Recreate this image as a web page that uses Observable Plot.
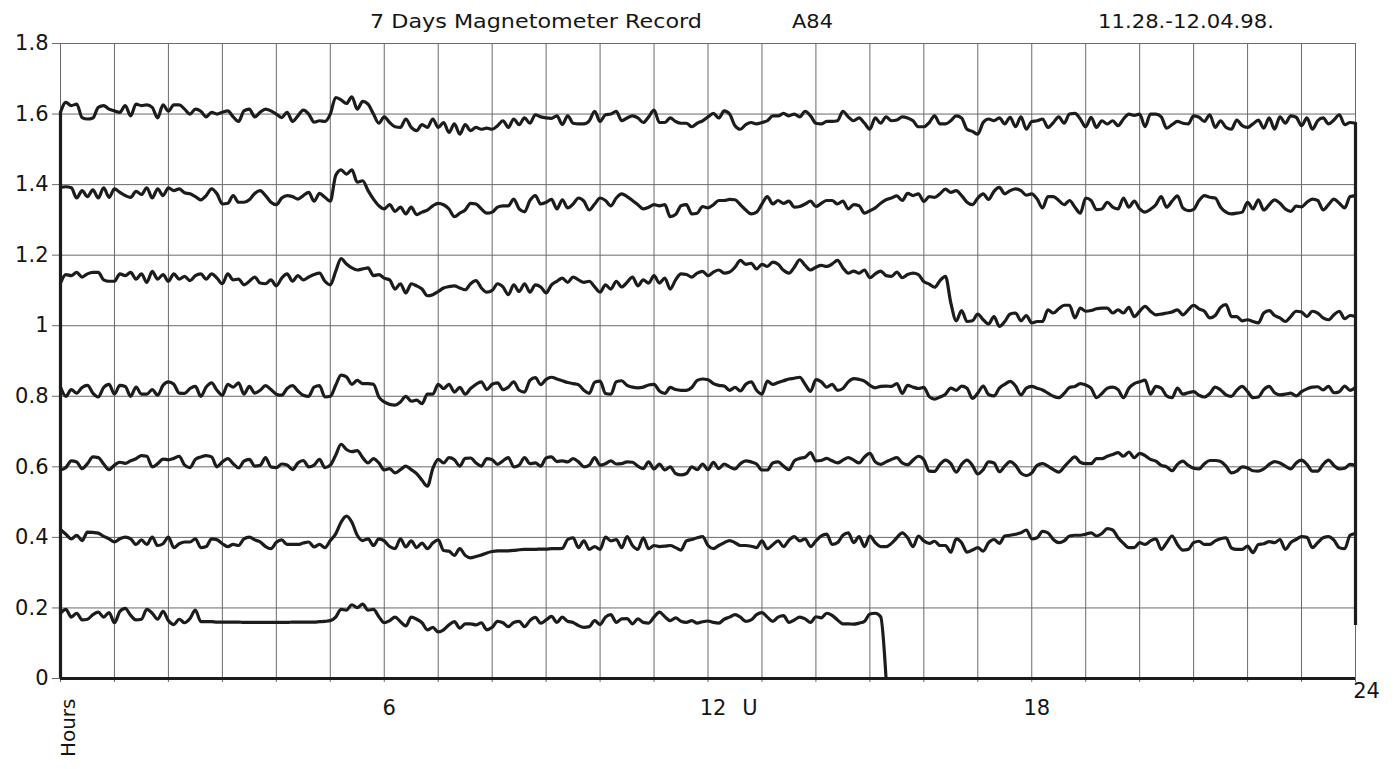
<!DOCTYPE html>
<html>
<head>
<meta charset="utf-8">
<script src="https://cdn.jsdelivr.net/npm/d3@7"></script>
<script src="https://cdn.jsdelivr.net/npm/@observablehq/plot@0.6"></script>
<style>
  body { margin: 0; background: #fff; }
  #wrap { position: relative; width: 1398px; height: 769px; background: #fff; overflow: hidden; }
  #hdr { position: absolute; left: 0; top: 0; pointer-events: none; }
  #chart { position: absolute; left: 0; top: 0; }
</style>
</head>
<body>
<div id="wrap">
  <div id="chart"></div>
  <svg id="hdr" width="1398" height="36" font-family="DejaVu Sans, sans-serif" font-size="19" fill="#151515">
    <text x="370" y="28" textLength="332" lengthAdjust="spacingAndGlyphs">7 Days Magnetometer Record</text>
    <text x="792" y="28" textLength="41" lengthAdjust="spacingAndGlyphs">A84</text>
    <text x="1098" y="28" textLength="176" lengthAdjust="spacingAndGlyphs">11.28.-12.04.98.</text>
  </svg>
</div>
<script>
// ---- data -------------------------------------------------------------
const stepHours = 0.1;                       // one sample every 0.1 h
const hourTicks = [0,1,2,3,4,5,6,7,8,9,10,11,12,13,14,15,16,17,18,19,20,21,22,23,24];
const xLabelTicks = [6, 12, 18];
const xEndTick = [24];
const yTicks = [0, 0.2, 0.4, 0.6, 0.8, 1, 1.2, 1.4, 1.6, 1.8];
const unitLabel = "U";
const axisName = "Hours";

const day1 = [1.605,1.633,1.624,1.628,1.59,1.586,1.589,1.619,1.624,1.614,
1.609,1.605,1.624,1.595,1.628,1.624,1.626,1.619,1.589,1.626,
1.608,1.626,1.626,1.614,1.6,1.614,1.608,1.592,1.605,1.6,
1.605,1.609,1.592,1.579,1.609,1.614,1.592,1.605,1.614,1.609,
1.6,1.59,1.605,1.579,1.595,1.611,1.6,1.577,1.581,1.579,
1.6,1.647,1.64,1.63,1.649,1.614,1.636,1.628,1.6,1.574,
1.592,1.576,1.564,1.562,1.586,1.562,1.553,1.57,1.562,1.586,
1.562,1.576,1.548,1.572,1.543,1.57,1.553,1.562,1.557,1.56,
1.557,1.567,1.581,1.562,1.586,1.57,1.589,1.574,1.598,1.592,
1.589,1.588,1.595,1.57,1.595,1.574,1.572,1.572,1.581,1.608,
1.579,1.598,1.6,1.608,1.581,1.589,1.595,1.589,1.576,1.592,
1.611,1.576,1.576,1.589,1.579,1.574,1.574,1.564,1.574,1.581,
1.592,1.602,1.589,1.609,1.6,1.567,1.557,1.57,1.576,1.572,
1.576,1.581,1.595,1.595,1.602,1.595,1.6,1.592,1.608,1.595,
1.574,1.572,1.579,1.579,1.581,1.608,1.592,1.581,1.589,1.574,
1.557,1.589,1.574,1.592,1.581,1.583,1.592,1.589,1.581,1.564,
1.564,1.576,1.595,1.572,1.572,1.581,1.595,1.589,1.557,1.551,
1.543,1.576,1.586,1.581,1.589,1.572,1.591,1.564,1.592,1.557,
1.579,1.581,1.586,1.562,1.576,1.592,1.574,1.6,1.602,1.586,
1.564,1.591,1.562,1.581,1.572,1.581,1.567,1.586,1.6,1.596,
1.6,1.564,1.6,1.6,1.592,1.56,1.57,1.579,1.574,1.572,
1.595,1.591,1.579,1.598,1.562,1.581,1.562,1.557,1.583,1.567,
1.562,1.572,1.583,1.56,1.589,1.557,1.592,1.574,1.595,1.591,
1.567,1.589,1.557,1.581,1.589,1.572,1.583,1.598,1.57,1.576,
1.574];

const day2 = [1.392,1.394,1.391,1.362,1.383,1.366,1.385,1.362,1.391,1.364,
1.388,1.378,1.369,1.364,1.381,1.372,1.391,1.362,1.388,1.369,
1.391,1.383,1.388,1.377,1.374,1.366,1.357,1.369,1.388,1.374,
1.345,1.347,1.369,1.35,1.35,1.357,1.375,1.383,1.369,1.35,
1.343,1.362,1.369,1.366,1.359,1.369,1.378,1.353,1.375,1.364,
1.353,1.426,1.442,1.43,1.442,1.407,1.411,1.383,1.359,1.34,
1.331,1.343,1.324,1.336,1.317,1.336,1.315,1.322,1.328,1.34,
1.347,1.343,1.331,1.309,1.319,1.328,1.347,1.345,1.331,1.319,
1.322,1.336,1.34,1.34,1.359,1.331,1.323,1.355,1.369,1.345,
1.35,1.358,1.331,1.357,1.334,1.345,1.362,1.353,1.328,1.345,
1.362,1.355,1.34,1.362,1.374,1.366,1.355,1.343,1.331,1.336,
1.343,1.34,1.343,1.309,1.315,1.34,1.343,1.317,1.319,1.338,
1.334,1.343,1.355,1.355,1.358,1.357,1.343,1.328,1.317,1.322,
1.345,1.366,1.345,1.355,1.347,1.353,1.336,1.338,1.345,1.353,
1.338,1.347,1.355,1.355,1.345,1.353,1.331,1.343,1.34,1.319,
1.326,1.334,1.347,1.357,1.362,1.368,1.355,1.375,1.369,1.374,
1.352,1.366,1.364,1.374,1.387,1.378,1.383,1.369,1.35,1.343,
1.362,1.374,1.358,1.381,1.392,1.374,1.383,1.388,1.383,1.37,
1.374,1.359,1.334,1.366,1.366,1.355,1.343,1.355,1.336,1.319,
1.362,1.355,1.329,1.331,1.35,1.336,1.331,1.362,1.336,1.353,
1.331,1.322,1.33,1.343,1.366,1.336,1.353,1.368,1.334,1.326,
1.33,1.355,1.369,1.364,1.362,1.336,1.322,1.317,1.319,1.322,
1.35,1.331,1.357,1.328,1.343,1.357,1.347,1.331,1.324,1.339,
1.337,1.35,1.359,1.355,1.328,1.343,1.359,1.347,1.334,1.366,
1.369];

const day3 = [1.121,1.145,1.142,1.151,1.138,1.147,1.151,1.151,1.13,1.126,
1.126,1.147,1.142,1.151,1.132,1.147,1.123,1.154,1.132,1.145,
1.126,1.147,1.132,1.14,1.128,1.142,1.147,1.132,1.147,1.135,
1.119,1.147,1.13,1.132,1.116,1.126,1.138,1.121,1.119,1.13,
1.113,1.135,1.147,1.126,1.142,1.13,1.138,1.145,1.149,1.126,
1.116,1.154,1.19,1.175,1.164,1.158,1.161,1.164,1.142,1.145,
1.135,1.13,1.104,1.119,1.093,1.119,1.113,1.104,1.085,1.088,
1.097,1.107,1.111,1.113,1.107,1.102,1.119,1.128,1.107,1.095,
1.1,1.119,1.11,1.088,1.116,1.097,1.119,1.095,1.116,1.11,
1.093,1.116,1.126,1.135,1.123,1.138,1.13,1.123,1.126,1.11,
1.095,1.116,1.104,1.126,1.11,1.123,1.138,1.113,1.13,1.121,
1.142,1.121,1.135,1.104,1.13,1.147,1.145,1.138,1.149,1.154,
1.142,1.152,1.158,1.149,1.152,1.166,1.185,1.174,1.177,1.161,
1.174,1.168,1.18,1.174,1.157,1.149,1.166,1.187,1.171,1.158,
1.166,1.171,1.168,1.175,1.185,1.164,1.149,1.155,1.149,1.158,
1.136,1.147,1.155,1.142,1.14,1.152,1.136,1.145,1.149,1.145,
1.125,1.118,1.109,1.128,1.14,1.065,1.014,1.043,1.012,1.014,
1.033,1.017,1.005,1.026,0.998,1.012,1.033,1.036,1.014,1.029,
1.008,1.012,1.012,1.045,1.036,1.048,1.058,1.058,1.022,1.05,
1.041,1.043,1.048,1.05,1.05,1.036,1.045,1.036,1.052,1.026,
1.041,1.055,1.041,1.031,1.033,1.036,1.039,1.045,1.031,1.045,
1.058,1.048,1.041,1.022,1.029,1.052,1.06,1.026,1.026,1.014,
1.017,1.012,1.008,1.036,1.043,1.029,1.022,1.012,1.026,1.041,
1.039,1.026,1.041,1.036,1.022,1.017,1.031,1.041,1.02,1.029,
1.026];

const day4 = [0.826,0.8,0.819,0.809,0.825,0.831,0.809,0.798,0.825,0.834,
0.806,0.831,0.828,0.8,0.826,0.806,0.806,0.819,0.803,0.831,
0.841,0.834,0.809,0.808,0.822,0.828,0.8,0.826,0.838,0.817,
0.803,0.834,0.826,0.838,0.806,0.828,0.809,0.817,0.83,0.819,
0.806,0.803,0.822,0.83,0.815,0.803,0.8,0.826,0.83,0.798,
0.8,0.831,0.86,0.855,0.834,0.845,0.836,0.836,0.834,0.798,
0.784,0.777,0.775,0.784,0.8,0.786,0.789,0.779,0.806,0.806,
0.834,0.822,0.834,0.812,0.825,0.806,0.822,0.834,0.841,0.819,
0.834,0.838,0.819,0.826,0.841,0.817,0.812,0.845,0.853,0.833,
0.848,0.854,0.849,0.844,0.839,0.836,0.833,0.817,0.808,0.84,
0.843,0.808,0.806,0.841,0.844,0.831,0.826,0.824,0.826,0.832,
0.834,0.815,0.808,0.825,0.819,0.817,0.817,0.825,0.845,0.849,
0.847,0.836,0.831,0.829,0.817,0.825,0.815,0.834,0.841,0.817,
0.806,0.843,0.834,0.839,0.844,0.849,0.851,0.854,0.834,0.814,
0.847,0.841,0.826,0.834,0.817,0.822,0.841,0.85,0.848,0.843,
0.831,0.824,0.828,0.829,0.828,0.836,0.808,0.831,0.826,0.822,
0.825,0.799,0.792,0.798,0.806,0.823,0.817,0.829,0.823,0.794,
0.809,0.829,0.805,0.801,0.823,0.834,0.842,0.829,0.804,0.823,
0.828,0.823,0.818,0.809,0.8,0.796,0.808,0.825,0.828,0.836,
0.832,0.823,0.796,0.808,0.823,0.826,0.819,0.796,0.823,0.836,
0.841,0.846,0.806,0.828,0.823,0.801,0.796,0.823,0.806,0.81,
0.813,0.803,0.798,0.808,0.826,0.818,0.804,0.8,0.817,0.828,
0.813,0.796,0.798,0.819,0.828,0.81,0.804,0.806,0.809,0.801,
0.813,0.821,0.826,0.827,0.818,0.828,0.81,0.813,0.829,0.817,
0.825];

const day5 = [0.591,0.598,0.617,0.614,0.595,0.609,0.628,0.626,0.608,0.592,
0.605,0.613,0.61,0.617,0.623,0.632,0.63,0.6,0.609,0.622,
0.62,0.624,0.63,0.605,0.598,0.621,0.628,0.632,0.628,0.6,
0.614,0.623,0.609,0.597,0.616,0.621,0.602,0.604,0.626,0.6,
0.598,0.608,0.605,0.592,0.611,0.618,0.6,0.605,0.621,0.598,
0.605,0.633,0.664,0.649,0.643,0.646,0.626,0.611,0.623,0.611,
0.591,0.595,0.583,0.592,0.602,0.592,0.581,0.562,0.545,0.595,
0.621,0.611,0.626,0.62,0.602,0.624,0.625,0.611,0.602,0.623,
0.62,0.607,0.617,0.626,0.6,0.605,0.626,0.609,0.611,0.602,
0.625,0.628,0.615,0.617,0.614,0.623,0.614,0.6,0.605,0.626,
0.605,0.609,0.617,0.608,0.609,0.614,0.613,0.602,0.595,0.614,
0.594,0.608,0.591,0.6,0.581,0.577,0.581,0.6,0.592,0.608,
0.592,0.613,0.595,0.608,0.6,0.594,0.609,0.617,0.614,0.608,
0.591,0.591,0.611,0.614,0.602,0.592,0.617,0.624,0.627,0.64,
0.617,0.618,0.624,0.617,0.611,0.619,0.626,0.619,0.611,0.628,
0.638,0.614,0.607,0.614,0.621,0.626,0.611,0.606,0.619,0.63,
0.62,0.588,0.587,0.607,0.619,0.609,0.585,0.607,0.619,0.604,
0.58,0.592,0.614,0.611,0.586,0.602,0.615,0.604,0.582,0.575,
0.583,0.604,0.609,0.602,0.592,0.585,0.6,0.616,0.628,0.613,
0.609,0.609,0.623,0.623,0.63,0.635,0.64,0.63,0.642,0.626,
0.638,0.632,0.621,0.616,0.604,0.6,0.589,0.607,0.616,0.604,
0.596,0.594,0.609,0.618,0.618,0.615,0.602,0.583,0.588,0.6,
0.597,0.589,0.588,0.594,0.607,0.615,0.611,0.602,0.594,0.611,
0.619,0.607,0.588,0.588,0.607,0.619,0.604,0.594,0.596,0.607,
0.604];

const day6 = [0.422,0.409,0.396,0.406,0.391,0.415,0.414,0.412,0.403,0.396,
0.387,0.396,0.401,0.396,0.38,0.393,0.38,0.401,0.377,0.382,
0.401,0.371,0.382,0.387,0.387,0.396,0.371,0.374,0.396,0.393,
0.382,0.374,0.38,0.377,0.396,0.401,0.393,0.387,0.374,0.368,
0.386,0.393,0.38,0.38,0.38,0.384,0.387,0.373,0.38,0.371,
0.391,0.41,0.443,0.46,0.443,0.406,0.391,0.396,0.377,0.396,
0.39,0.374,0.368,0.396,0.373,0.39,0.371,0.384,0.368,0.384,
0.393,0.363,0.361,0.349,0.368,0.349,0.342,0.346,0.35,0.356,
0.36,0.362,0.362,0.362,0.363,0.365,0.366,0.366,0.366,0.367,
0.367,0.368,0.368,0.369,0.394,0.399,0.371,0.39,0.366,0.374,
0.366,0.401,0.39,0.394,0.371,0.402,0.377,0.366,0.399,0.368,
0.377,0.374,0.375,0.377,0.371,0.364,0.39,0.394,0.399,0.402,
0.377,0.368,0.377,0.385,0.391,0.385,0.377,0.377,0.375,0.371,
0.39,0.368,0.379,0.39,0.374,0.392,0.402,0.39,0.396,0.374,
0.39,0.404,0.409,0.38,0.385,0.406,0.413,0.385,0.402,0.374,
0.404,0.385,0.374,0.374,0.383,0.399,0.413,0.399,0.374,0.404,
0.39,0.383,0.389,0.377,0.377,0.358,0.396,0.385,0.358,0.364,
0.371,0.361,0.385,0.394,0.383,0.404,0.406,0.409,0.413,0.421,
0.396,0.399,0.417,0.413,0.394,0.385,0.39,0.404,0.406,0.406,
0.409,0.413,0.404,0.411,0.425,0.421,0.399,0.383,0.371,0.371,
0.385,0.38,0.39,0.396,0.366,0.385,0.404,0.38,0.364,0.366,
0.385,0.389,0.38,0.38,0.39,0.396,0.399,0.37,0.366,0.366,
0.375,0.357,0.38,0.382,0.388,0.385,0.394,0.366,0.385,0.394,
0.402,0.4,0.371,0.385,0.399,0.402,0.392,0.371,0.368,0.406,
0.411];

const day7 = [0.185,0.196,0.174,0.185,0.166,0.168,0.181,0.188,0.174,0.187,
0.158,0.19,0.199,0.179,0.166,0.168,0.196,0.185,0.168,0.19,
0.164,0.153,0.168,0.158,0.17,0.194,0.161,0.161,0.161,0.16,
0.16,0.16,0.16,0.16,0.159,0.159,0.159,0.159,0.159,0.159,
0.159,0.159,0.159,0.16,0.16,0.16,0.16,0.16,0.161,0.162,
0.164,0.174,0.196,0.194,0.209,0.201,0.211,0.194,0.196,0.175,
0.158,0.164,0.174,0.161,0.149,0.174,0.168,0.158,0.138,0.145,
0.132,0.138,0.152,0.161,0.143,0.155,0.155,0.152,0.158,0.138,
0.145,0.162,0.158,0.147,0.159,0.162,0.147,0.164,0.173,0.157,
0.166,0.176,0.159,0.174,0.162,0.159,0.15,0.145,0.147,0.164,
0.153,0.174,0.181,0.159,0.169,0.17,0.155,0.169,0.159,0.157,
0.174,0.188,0.175,0.164,0.172,0.162,0.159,0.164,0.157,0.161,
0.163,0.159,0.157,0.168,0.174,0.181,0.174,0.162,0.166,0.181,
0.187,0.174,0.162,0.174,0.178,0.159,0.166,0.174,0.169,0.159,
0.175,0.172,0.185,0.179,0.166,0.155,0.155,0.154,0.157,0.162,
0.183,0.185,0.175,0];

const rightEdgeLow = 0.15;   // lower end of the closing stroke at 24 h
// -----------------------------------------------------------------------

const days = [day1, day2, day3, day4, day5, day6, day7];
const rows = days.flatMap((vals, k) =>
  vals.map((v, i) => ({day: k + 1, t: Math.round(i * stepHours * 100) / 100, v}))
);
const edges = [
  {t: 0, lo: 0, hi: day1[0]},
  {t: 24, lo: rightEdgeLow, hi: day1[day1.length - 1]}
];

const ink = "#1c1c1c";
const gridInk = "#6a6a6a";
const textInk = "#151515";
const labelSize = 21;

const chart = Plot.plot({
  width: 1398,
  height: 769,
  marginTop: 43,
  marginBottom: 91,
  marginLeft: 60,
  marginRight: 43,
  x: {domain: [0, 24]},
  y: {domain: [0, 1.8]},
  style: {fontFamily: "DejaVu Sans, sans-serif", fontSize: labelSize + "px", color: textInk, background: "transparent", overflow: "visible"},
  marks: [
    Plot.gridX(hourTicks, {stroke: gridInk, strokeOpacity: 1, strokeWidth: 1}),
    Plot.gridY(yTicks, {stroke: gridInk, strokeOpacity: 1, strokeWidth: 1}),
    Plot.axisY(yTicks, {tickSize: 8, tickPadding: 4, stroke: gridInk, fill: textInk, fontSize: labelSize, label: null, tickFormat: d => String(d)}),
    Plot.axisX(hourTicks, {tickSize: 4, stroke: gridInk, tickFormat: () => "", label: null}),
    Plot.axisX(xLabelTicks, {tickSize: 0, tickPadding: 22, fontSize: labelSize, fill: textInk, dx: 5, label: null, tickFormat: d => String(d)}),
    Plot.axisX(xEndTick, {tickSize: 0, tickPadding: 5, fontSize: labelSize, fill: textInk, dx: 11, label: null, tickFormat: d => String(d)}),
    Plot.text([unitLabel], {x: 12, y: 0, text: d => d, dx: 42, dy: 22, lineAnchor: "top", fontSize: labelSize, fill: textInk}),
    Plot.text([axisName], {x: 0, y: 0, text: d => d, rotate: -90, textAnchor: "end", lineAnchor: "middle", dx: 8, dy: 20, fontSize: 20, fill: textInk}),
    Plot.ruleY([0], {stroke: ink, strokeWidth: 3.2}),
    Plot.ruleX(edges, {x: "t", y1: "lo", y2: "hi", stroke: ink, strokeWidth: 3.2}),
    Plot.line(rows, {x: "t", y: "v", z: "day", curve: "monotone-x", stroke: ink, strokeWidth: 3.2, strokeLinejoin: "round", strokeLinecap: "round"})
  ]
});
document.getElementById("chart").appendChild(chart);
</script>
</body>
</html>
